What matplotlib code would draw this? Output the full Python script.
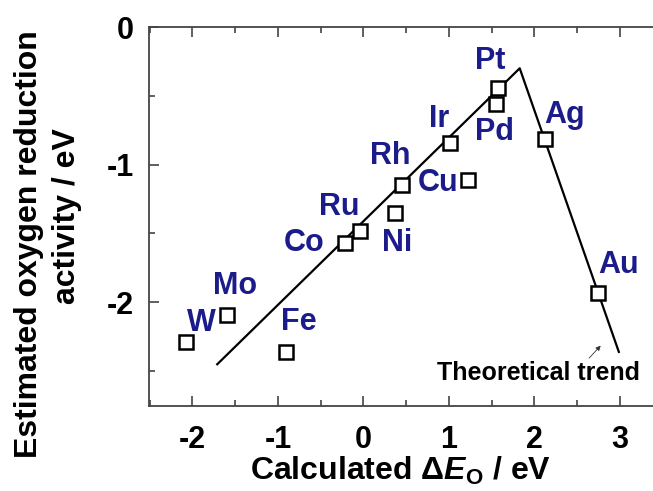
import numpy as np
import matplotlib
matplotlib.use('Agg')
import matplotlib.pyplot as plt
from matplotlib.ticker import MultipleLocator

# Datos
metales = ['W', 'Mo', 'Fe', 'Co', 'Ru', 'Ni', 'Rh', 'Cu', 'Ir', 'Pd', 'Pt', 'Ag', 'Au']
dE_O = [-2.07, -1.60, -0.90, -0.22, -0.04, 0.37, 0.45, 1.23, 1.01, 1.55, 1.58, 2.13, 2.75]
actividad = [-2.29, -2.09, -2.36, -1.57, -1.48, -1.35, -1.15, -1.11, -0.84, -0.56, -0.44, -0.81, -1.93]

# posiciones de las etiquetas
lab_x = [-1.90, -1.50, -0.75, -0.69, -0.28, 0.40, 0.31, 0.87, 0.89, 1.54, 1.48, 2.36, 2.99]
lab_y = [-2.15, -1.88, -2.14, -1.57, -1.31, -1.57, -0.94, -1.13, -0.67, -0.76, -0.25, -0.64, -1.73]

# tendencia teorica (volcan)
trend_x = [-1.71, 1.83, 2.99]
trend_y = [-2.45, -0.30, -2.36]

plt.rcParams['font.family'] = ['Liberation Sans', 'DejaVu Sans']
plt.rcParams['mathtext.fontset'] = 'custom'
plt.rcParams['mathtext.rm'] = 'Liberation Sans:bold'
plt.rcParams['mathtext.it'] = 'Liberation Sans:bold:italic'

fig = plt.figure(figsize=(6.53, 4.91), dpi=100)
ax = fig.add_axes([0.228, 0.174, 0.772, 0.771])

ax.plot(trend_x, trend_y, color='black', lw=1.6, zorder=2)
ax.plot(dE_O, actividad, ls='none', marker='s', ms=10, mfc='white', mec='black', mew=1.8, zorder=3)

azul = '#1b1b8a'
for m, x, y in zip(metales, lab_x, lab_y):
    ax.text(x, y, m, color=azul, fontsize=22, fontweight='bold', ha='center', va='center', zorder=4)

ax.text(2.05, -2.51, 'Theoretical trend', fontsize=18, fontweight='bold', ha='center', va='center')
ax.annotate('', xy=(2.80, -2.30), xytext=(2.62, -2.42),
            arrowprops=dict(arrowstyle='-|>', color='#333333', lw=0.6, mutation_scale=7))

ax.set_xlim(-2.51, 3.39)
ax.set_ylim(-2.75, 0)
ax.xaxis.set_minor_locator(MultipleLocator(0.5))
ax.yaxis.set_minor_locator(MultipleLocator(0.5))
ax.set_yticks([0, -1, -2])
ax.set_yticklabels(['0', '-1', '-2'])
ax.set_xticks([-2, -1, 0, 1, 2, 3])
ax.set_xticklabels(['-2', '-1', '0', '1', '2', '3'])

ax.tick_params(which='both', direction='in', top=True, right=False, width=1.2, colors='#444444',
               labelcolor='black', labelsize=22)
ax.tick_params(axis='x', pad=14)
ax.tick_params(axis='y', pad=11)
ax.tick_params(which='major', length=7)
ax.tick_params(which='minor', length=4)
for lbl in ax.get_xticklabels() + ax.get_yticklabels():
    lbl.set_fontweight('bold')

for s in ['left', 'bottom', 'top']:
    ax.spines[s].set_linewidth(1.3)
    ax.spines[s].set_color('#444444')
ax.spines['right'].set_visible(False)

ax.set_xlabel(r'Calculated $\Delta \mathit{E}_{\mathrm{O}}$ / eV', fontsize=23, fontweight='bold', labelpad=0)

# etiqueta del eje y en dos lineas
fig.text(0.044, 0.503, 'Estimated oxygen reduction', rotation=90, fontsize=23, fontweight='bold',
         ha='center', va='center')
fig.text(0.103, 0.56, 'activity / eV', rotation=90, fontsize=23, fontweight='bold',
         ha='center', va='center')

plt.savefig('out.png', dpi=100)
